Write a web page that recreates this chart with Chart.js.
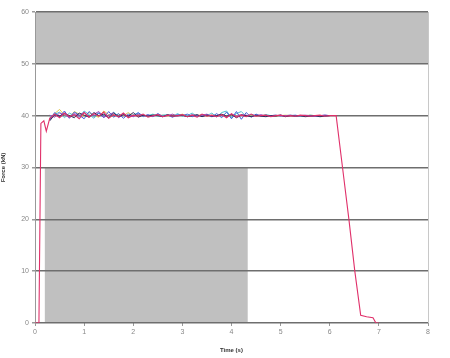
<!DOCTYPE html>
<html><head><meta charset="utf-8">
<script src="https://cdn.jsdelivr.net/npm/chart.js@4/dist/chart.umd.min.js"></script>
<style>html,body{margin:0;padding:0;background:#fff}canvas{display:block;background:#fff}</style>
</head><body>
<canvas id="c" width="450" height="358"></canvas>
<script>
const T = [0.3,0.4,0.5,0.6,0.7,0.8,0.9,1.0,1.1,1.2,1.3,1.4,1.5,1.6,1.7,1.8,1.9,2.0,2.1,2.2,2.3,2.4,2.5,2.6,2.7,2.8,2.9,3.0,3.1,3.2,3.3,3.4,3.5,3.6,3.7,3.8,3.9,4.0,4.1,4.2,4.3,4.4,4.5,4.6,4.7,4.8,4.9,5.0,5.1,5.2,5.3,5.4,5.5,5.6,5.7,5.8,5.9,6.0];
const redLeadT = [0,0.08,0.12,0.18,0.23];
const redLeadV = [0,0,38.5,39,37];
const redCore = [39.5,40.3,39.6,40.5,39.8,40.2,39.4,40.6,39.7,40.4,
 39.9,40.7,39.5,40.2,39.8,40.5,39.6,40.1,39.9,40.3,
 39.7,40.0,40.2,39.8,40.1,39.9,40.0,40.2,39.8,40.1,
 39.7,40.3,39.9,40.1,39.8,40.2,39.6,40.4,39.7,40.1,
 39.8,40.3,39.9,40.0,40.1,39.8,40.0,40.1,39.9,40.0,
 39.9,40.1,40.0,39.9,40.0,40.1,39.9,40.0];
const redTailT = [6.1,6.13,6.26,6.39,6.51,6.63,6.75,6.88,6.94,7.0];
const redTailV = [40,40,30,20,10,1.5,1.2,1.0,0,0];
const blue = [39.2,40.6,39.8,40.9,39.5,40.7,40.1,39.4,40.8,39.9,
 40.5,39.6,40.8,39.7,40.4,39.5,40.3,39.8,40.6,39.9,
 40.2,39.8,40.4,39.9,40.1,39.7,40.2,40.0,40.3,39.8,
 40.1,39.9,40.2,39.8,40.4,39.6,40.7,39.4,40.8,39.3,
 40.6,39.7,40.3,39.9,40.1,39.9,40.0,40.1,39.9,40.0,
 40.1,39.9,40.0,40.0,39.9,40.0,40.1,40.0];
const cyan = [39.8,40.2,40.7,39.6,40.5,40.0,39.7,40.9,40.2,39.5,
 40.6,40.1,39.6,40.7,39.9,40.4,39.7,40.2,40.5,39.8,
 40.0,40.3,39.9,40.1,40.2,39.8,40.4,39.9,40.0,40.5,
 39.8,40.2,40.0,40.5,39.7,40.6,40.9,39.6,40.4,40.8,
 39.8,40.2,40.0,39.9,40.2,40.0,40.1,39.9,40.0,40.1,
 40.0,40.0,39.9,40.1,40.0,40.0,39.9,40.0];
const yellow = [39.6,40.4,41.2,40.1,39.7,40.8,40.3,39.9,40.6,40.0,
 39.7,40.9,40.2,39.8,40.3,40.0,40.6,39.9,40.2,40.1,
 39.9,40.2,40.0,40.1,39.9,40.2,40.0,40.3,39.9,40.1,
 40.0,40.2,39.9,40.1,40.0,40.2,39.9,40.1,40.0,40.2,
 40.0,40.1,39.9,40.0,40.1,40.0,39.9,40.0,40.1,40.0,
 40.0,39.9,40.0,40.1,40.0,40.0,40.0,40.0];
const purple = [40.1,39.7,40.5,40.2,39.6,40.4,39.9,40.7,39.8,40.3,
 40.8,39.7,40.1,40.6,39.6,40.2,40.0,39.8,40.3,39.9,
 40.1,39.9,40.2,39.8,40.0,40.3,39.9,40.1,39.8,40.2,
 39.9,40.1,40.3,39.8,40.0,40.2,39.7,40.3,39.9,40.2,
 40.1,39.8,40.0,40.2,39.9,40.0,40.1,39.9,40.0,40.1,
 39.9,40.0,40.1,40.0,39.9,40.0,40.1,40.0];
const dark = [39.0,40.2,39.9,40.4,40.0,39.6,40.5,40.1,39.7,40.6,
 40.0,40.3,39.6,40.5,39.8,40.2,39.9,40.6,39.7,40.1,
 39.9,40.1,40.0,39.8,40.2,39.9,40.0,40.1,39.8,40.0,
 40.2,39.8,40.1,39.9,40.0,40.3,39.9,40.2,39.6,40.1,
 40.0,39.8,40.1,39.9,39.8,40.0,39.9,40.1,39.8,40.0,
 39.9,40.0,39.8,39.9,40.0,39.8,39.9,40.0];
const xTicks = [0,1,2,3,4,5,6,7,8];
const yTicks = [0,10,20,30,40,50,60];
const bandX0 = [0,0.2];
const bandX1 = [8,4.33];
const bandY0 = [50,0];
const bandY1 = [60,30];

function pts(ts, vs){ return ts.map((t,i)=>({x:t,y:vs[i]})); }
const redPts = pts(redLeadT,redLeadV).concat(pts(T,redCore)).concat(pts(redTailT,redTailV));

const bandsPlugin = {
  id:'bands',
  beforeDraw(chart){
    const {ctx, scales:{x,y}} = chart;
    ctx.save();
    ctx.fillStyle = '#c0c0c0';
    for(let i=0;i<bandX0.length;i++){
      const l=x.getPixelForValue(bandX0[i]), r=x.getPixelForValue(bandX1[i]);
      const t=y.getPixelForValue(bandY1[i]), b=y.getPixelForValue(bandY0[i]);
      ctx.fillRect(l,t,r-l,b-t);
    }
    ctx.restore();
  }
};

function ds(data,color,w){ return {data, borderColor:color, borderWidth:w||1, pointRadius:0, tension:0, fill:false}; }

new Chart(document.getElementById('c'),{
  type:'line',
  data:{datasets:[
    ds(redPts,'#e0306a',1.1),
    ds(pts(T,dark),'#302a58'),
    ds(pts(T,purple),'#a04cc0'),
    ds(pts(T,blue),'#4060d8'),
    ds(pts(T,cyan),'#50c0d0'),
    ds(pts(T,yellow),'#e0c850')
  ]},
  options:{
    responsive:false, animation:false,
    layout:{padding:{left:0,right:22,top:12,bottom:0}},
    plugins:{legend:{display:false},tooltip:{enabled:false}},
    scales:{
      x:{type:'linear',min:0,max:8,
        afterBuildTicks(s){ s.ticks = xTicks.map(v=>({value:v})); },
        afterFit(s){ s.height = 35; },
        ticks:{font:{size:7,family:'Liberation Sans'},color:'#888',padding:2},
        grid:{drawOnChartArea:true,color:(c)=>c.tick&&c.tick.value===8?'#c8c8c8':'rgba(0,0,0,0)',tickColor:'#999',tickLength:3,lineWidth:1},
        border:{display:false},
        title:{display:true,text:'Time (s)',font:{size:6,weight:'bold',family:'Liberation Sans'},color:'#333',padding:{top:2,bottom:4}}
      },
      y:{min:0,max:60,
        afterBuildTicks(s){ s.ticks = yTicks.map(v=>({value:v})); },
        afterFit(s){ s.width = 35; },
        ticks:{font:{size:7,family:'Liberation Sans'},color:'#888',padding:3},
        grid:{color:'#6e6e6e',lineWidth:1.5,tickColor:'#999',tickLength:3},
        border:{display:true,color:'#999',width:1},
        title:{display:true,text:'Force (kN)',font:{size:6,weight:'bold',family:'Liberation Sans'},color:'#333',padding:{top:0,bottom:2}}
      }
    }
  },
  plugins:[bandsPlugin]
});
</script>
</body></html>
